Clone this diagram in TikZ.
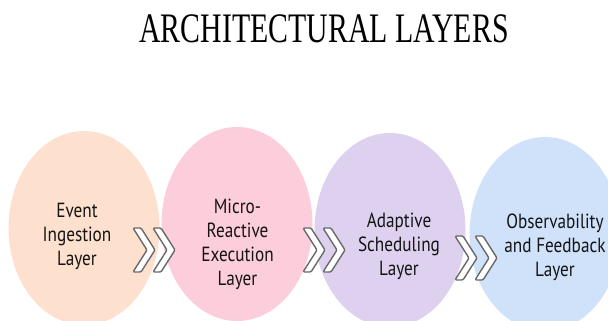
\documentclass[tikz,border=0pt]{standalone}
\usepackage{fontspec}
\usetikzlibrary{shapes.geometric}
\setmainfont{Liberation Serif}
\newfontfamily\handfont{PT Sans}
\definecolor{peach}{RGB}{253,224,206}
\definecolor{rosy}{RGB}{252,205,218}
\definecolor{lilac}{RGB}{222,209,240}
\definecolor{skyish}{RGB}{208,225,250}
\definecolor{chevgray}{RGB}{105,105,105}
\newcommand{\layertext}[1]{\scalebox{0.84}[1]{\handfont\fontsize{20.5}{24}\selectfont\begin{tabular}{@{}c@{}}#1\end{tabular}}}
\newcommand{\chevron}[2]{%
  \draw[chevshape] (#1,#2-22) -- (#1+8,#2-22) -- (#1+22,#2) -- (#1+8,#2+22)
    -- (#1,#2+22) -- (#1+14,#2) -- cycle;}
\tikzset{
  layer/.style={ellipse, inner sep=0pt, minimum width=151pt, minimum height=194pt},
  label/.style={inner sep=0pt, text=black!92},
  chevshape/.style={draw=chevgray, fill=white, line width=1.4pt, rounded corners=1.2pt, line join=round}
}
\begin{document}
\begin{tikzpicture}[x=1pt,y=-1pt]
  \useasboundingbox (0,0) rectangle (608,321);
  \clip (0,0) rectangle (608,321);
  \fill[white] (0,0) rectangle (608,321);

  % title
  \node[inner sep=0pt, anchor=base] (title) at (324,43)
    {\scalebox{0.71}[1]{\fontsize{42}{48}\selectfont ARCHITECTURAL LAYERS}};

  % the four layers
  \node[layer, fill=peach]  (l1) at (84,228) {};
  \node[layer, fill=rosy]   (l2) at (237,224) {};
  \node[layer, fill=lilac]  (l3) at (390,230) {};
  \node[layer, fill=skyish] (l4) at (545,234) {};

  \node[label] (t1) at (77,236.7)  {\layertext{Event\\Ingestion\\Layer}};
  \node[label] (t2) at (237.5,244.2) {\layertext{Micro-\\Reactive\\Execution\\Layer}};
  \node[label] (t3) at (399,246.2) {\layertext{Adaptive\\Scheduling\\Layer}};
  \node[label] (t4) at (555,247.7) {\layertext{Observability\\and Feedback\\Layer}};

  % double chevrons between the layers
  \chevron{133}{250}\chevron{153}{250}
  \chevron{303}{250}\chevron{323}{250}
  \chevron{455}{258}\chevron{475}{258}
\end{tikzpicture}
\end{document}
